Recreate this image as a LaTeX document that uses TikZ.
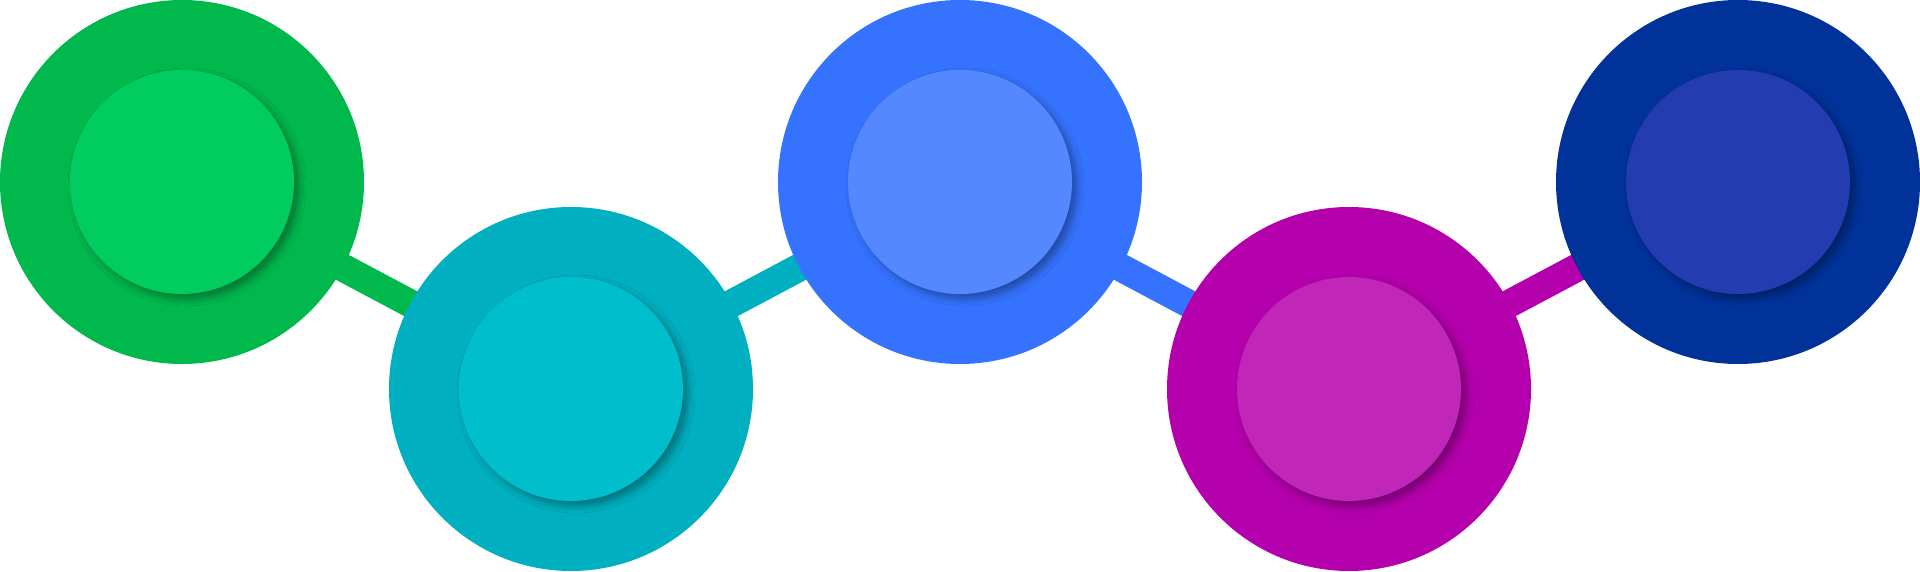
\documentclass[tikz,border=0pt]{standalone}
\usetikzlibrary{backgrounds,shadows.blur}
\definecolor{gO}{HTML}{00B84C}
\definecolor{gI}{HTML}{00CC60}
\definecolor{tO}{HTML}{00B0C0}
\definecolor{tI}{HTML}{00BECC}
\definecolor{bO}{HTML}{3573FF}
\definecolor{bI}{HTML}{5588FF}
\definecolor{mO}{HTML}{B400AC}
\definecolor{mI}{HTML}{C026B8}
\definecolor{dO}{HTML}{00329A}
\definecolor{dI}{HTML}{233CB0}
\begin{document}
\begin{tikzpicture}[x=1pt,y=1pt,
  outerc/.style={circle,minimum size=364pt,inner sep=0pt,fill=#1},
  innerc/.style={circle,minimum size=224pt,inner sep=0pt,fill=#1,
    blur shadow={shadow xshift=5pt,shadow yshift=-5pt,shadow blur radius=7pt,shadow opacity=35}},
  link/.style={line width=28pt,draw=#1}]
\useasboundingbox (0,0) rectangle (1920,571);
\node[outerc=gO] (n1) at (182,389) {};
\node[outerc=tO] (n2) at (571,182) {};
\node[outerc=bO] (n3) at (960,389) {};
\node[outerc=mO] (n4) at (1349,182) {};
\node[outerc=dO] (n5) at (1738,389) {};
\node[innerc=gI] (c1) at (n1.center) {};
\node[innerc=tI] (c2) at (n2.center) {};
\node[innerc=bI] (c3) at (n3.center) {};
\node[innerc=mI] (c4) at (n4.center) {};
\node[innerc=dI] (c5) at (n5.center) {};
\begin{scope}[on background layer]
\draw[link=gO] (n1.center) -- (n2.center);
\draw[link=tO] (n2.center) -- (n3.center);
\draw[link=bO] (n3.center) -- (n4.center);
\draw[link=mO] (n4.center) -- (n5.center);
\end{scope}
\end{tikzpicture}
\end{document}
